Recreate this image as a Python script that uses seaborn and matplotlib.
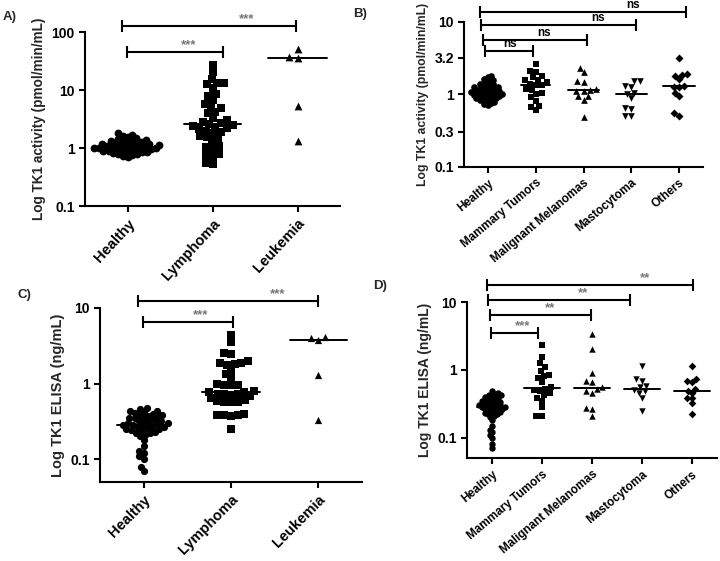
import numpy as np
import pandas as pd
import matplotlib
matplotlib.use('Agg')
import matplotlib.pyplot as plt
import seaborn as sns

sns.set_theme(style='ticks')
plt.rcParams['font.family'] = ['Liberation Sans', 'DejaVu Sans']
plt.rcParams['font.weight'] = 'bold'
plt.rcParams['axes.labelweight'] = 'bold'

# ---------------- data ----------------
cats_hem = ['Healthy', 'Lymphoma', 'Leukemia']
cats_solid = ['Healthy', 'Mammary Tumors', 'Malignant Melanomas', 'Mastocytoma', 'Others']

# TK1 activity (pmol/min/mL)
healthy_activity = [0.70, 0.73, 0.76, 0.78, 0.80, 0.82, 0.84, 0.85, 0.87, 0.89, 0.90, 0.92,
                    0.93, 0.95, 0.96, 0.97, 0.99, 1.00, 1.01, 1.03, 1.04, 1.06, 1.07, 1.09,
                    1.10, 1.12, 1.14, 1.16, 1.18, 1.20, 1.22, 1.25, 1.27, 1.30, 1.33, 1.36,
                    1.40, 1.45, 1.50, 1.56, 1.62, 1.70, 1.78]
lymphoma_activity = [27, 20.5, 15.3, 13, 13, 12.5, 10.7, 8.5, 7.9, 6.7, 5.7, 5.2, 4.8, 4.2,
                     4.0, 3.3, 3.0, 2.8, 2.7, 2.6, 2.5, 2.4, 2.3, 2.2, 2.1, 2.0, 1.9, 1.8,
                     1.6, 1.55, 1.5, 1.3, 1.08, 1.05, 1.0, 0.78, 0.75, 0.72, 0.55, 0.52]
leukemia_activity = [50, 36, 37, 5.3, 1.3]
mammary_activity = [2.6, 2.1, 2.0, 1.8, 1.7, 1.57, 1.55, 1.45, 1.38, 1.35, 1.33, 1.17,
                    1.15, 1.02, 1.0, 0.9, 0.81, 0.69, 0.66, 0.6]
melanoma_activity = [2.33, 1.99, 1.53, 1.45, 1.17, 1.15, 1.11, 1.10, 0.95, 0.93, 0.83, 0.49]
mastocytoma_activity = [1.53, 1.50, 1.30, 1.26, 1.05, 1.01, 0.89, 0.65, 0.63, 0.50, 0.50]
others_activity = [3.2, 1.89, 1.85, 1.80, 1.61, 1.30, 1.26, 1.24, 1.05, 0.95, 0.54, 0.50]

# TK1 ELISA (ng/mL)
healthy_elisa = [0.07, 0.08, 0.10, 0.11, 0.12, 0.13, 0.15, 0.18, 0.20, 0.21, 0.22, 0.22,
                 0.23, 0.24, 0.24, 0.25, 0.25, 0.26, 0.26, 0.27, 0.27, 0.28, 0.28, 0.29,
                 0.29, 0.30, 0.30, 0.31, 0.32, 0.32, 0.33, 0.34, 0.35, 0.35, 0.36, 0.37,
                 0.38, 0.39, 0.40, 0.41, 0.42, 0.43, 0.44, 0.46, 0.48]
lymphoma_elisa = [4.4, 3.6, 2.55, 2.5, 1.97, 1.9, 1.87, 1.81, 1.78, 1.53, 1.34, 1.19,
                  0.98, 0.97, 0.97, 0.95, 0.79, 0.78, 0.77, 0.74, 0.73, 0.72, 0.70, 0.68,
                  0.65, 0.60, 0.59, 0.58, 0.58, 0.57, 0.40, 0.39, 0.38, 0.38, 0.37, 0.25]
leukemia_elisa = [4.1, 3.8, 4.0, 1.3, 0.33]
mammary_elisa = [2.3, 1.55, 1.25, 1.1, 0.95, 0.85, 0.8, 0.75, 0.65, 0.55, 0.52, 0.5,
                 0.48, 0.45, 0.42, 0.38, 0.35, 0.28, 0.21, 0.21]
melanoma_elisa = [3.4, 2.05, 0.91, 0.69, 0.66, 0.55, 0.52, 0.49, 0.46, 0.27, 0.26, 0.21]
mastocytoma_elisa = [1.12, 0.72, 0.68, 0.58, 0.55, 0.50, 0.48, 0.45, 0.38, 0.25]
others_elisa = [1.15, 0.72, 0.68, 0.65, 0.52, 0.49, 0.45, 0.38, 0.38, 0.32, 0.22]

# significance labels
sig_A = ['***', '***']
sig_B = ['ns', 'ns', 'ns', 'ns']
sig_C = ['***', '***']
sig_D = ['**', '**', '**', '***']

W, H = 720, 561
fig = plt.figure(figsize=(W / 100, H / 100), dpi=100)


def add_ax(left, right, top, bottom):
    return fig.add_axes([left / W, 1 - bottom / H, (right - left) / W, (bottom - top) / H])


markers = {'Healthy': 'o', 'Lymphoma': 's', 'Leukemia': '^', 'Mammary Tumors': 's',
           'Malignant Melanomas': '^', 'Mastocytoma': 'v', 'Others': 'D'}

resize = []  # (collection, final marker size) pairs


def panel(ax, cats, groups, ylim, yticks, yticklabels, ylabel, msize, medw, tickfs,
          ylabfs, pack, rot):
    ax.set_yscale('log')
    ax.set_ylim(*ylim)
    ax.set_xlim(-0.5, len(cats) - 0.5)
    for i, (c, vals) in enumerate(zip(cats, groups)):
        df = pd.DataFrame({'group': [c] * len(vals), 'value': vals})
        mk = markers[c]
        s = msize * (0.85 if mk == 'D' else 1.0)
        n0 = len(ax.collections)
        sns.swarmplot(data=df, x='group', y='value', order=cats, ax=ax, color='black',
                      marker=mk, size=s * pack[i], linewidth=0, warn_thresh=1.0)
        for coll in ax.collections[n0:]:
            resize.append((coll, s))
        med = np.median(vals)
        w = medw[i]
        ax.plot([i - w, i + w], [med, med], color='black', lw=1.4, zorder=5)
    ax.set_xlim(-0.5, len(cats) - 0.5)
    ax.set_ylim(*ylim)
    ax.set_yticks(yticks)
    ax.set_yticklabels(yticklabels, fontsize=10, fontweight='bold')
    ax.yaxis.set_minor_locator(matplotlib.ticker.NullLocator())
    ax.set_xticks(range(len(cats)))
    ax.set_xticklabels(cats, rotation=rot, ha='right', rotation_mode='anchor',
                       fontsize=tickfs, fontweight='bold')
    ax.set_xlabel('')
    ax.set_ylabel(ylabel, fontsize=ylabfs, fontweight='bold')
    for sp in ['top', 'right']:
        ax.spines[sp].set_visible(False)
    for sp in ['left', 'bottom']:
        ax.spines[sp].set_linewidth(1.5)
        ax.spines[sp].set_color('black')
    ax.tick_params(axis='both', direction='out', length=4, width=1.5, colors='black')
    ax.set_facecolor('white')


def bracket(ax, x0, x1, y, text, tx, star):
    ax.plot([x0, x1], [y, y], color='black', lw=1.5, marker='|', ms=9, mew=1.5,
            clip_on=False, zorder=6)
    if star:
        ax.annotate(text, (tx, y), xytext=(0, 0.5), textcoords='offset points',
                    ha='center', va='bottom', fontsize=9.5, color='#777777',
                    annotation_clip=False)
    else:
        ax.annotate(text, (tx, y), xytext=(0, 0.5), textcoords='offset points',
                    ha='center', va='bottom', fontsize=8.5, color='black',
                    fontweight='bold', annotation_clip=False)


# Panel A
axA = add_ax(85, 340, 32, 206)
panel(axA, cats_hem, [healthy_activity, lymphoma_activity, leukemia_activity],
      (0.1, 100), [0.1, 1, 10, 100], ['0.1', '1', '10', '100'],
      'Log TK1 activity (pmol/min/mL)', 5.6, [0.25, 0.33, 0.35], 10.5, 9.8,
      [0.62, 0.85, 1.0], 47)
bracket(axA, -0.07, 1.98, 127, sig_A[0], 1.4, True)
bracket(axA, -0.01, 1.12, 45, sig_A[1], 0.72, True)

# Panel B
axB = add_ax(464, 703, 21.7, 166.5)
panel(axB, cats_solid, [healthy_activity, mammary_activity, melanoma_activity,
                        mastocytoma_activity, others_activity],
      (0.1, 10), [0.1, 0.3, 1, 3.2, 10], ['0.1', '0.3', '1', '3.2', '10'],
      'Log TK1 activity (pmol/min/mL)', 4.8, [0.3, 0.3, 0.33, 0.33, 0.33], 8.5, 8.8,
      [0.55, 0.85, 0.9, 0.9, 0.9], 40)
bracket(axB, -0.17, 4.15, 13.7, sig_B[0], 3.03, False)
bracket(axB, -0.15, 3.09, 9.0, sig_B[1], 2.3, False)
bracket(axB, -0.10, 2.08, 5.6, sig_B[2], 1.18, False)
bracket(axB, -0.06, 0.95, 3.95, sig_B[3], 0.46, False)

# Panel C
axC = add_ax(100, 362, 308, 482)
panel(axC, cats_hem, [healthy_elisa, lymphoma_elisa, leukemia_elisa],
      (0.05, 10), [0.1, 1, 10], ['0.1', '1', '10'],
      'Log TK1 ELISA (ng/mL)', 5.2, [0.3, 0.33, 0.33], 10.5, 10.5,
      [0.7, 0.9, 1.0], 45)
bracket(axC, -0.06, 2.0, 12.5, sig_C[0], 1.53, True)
bracket(axC, -0.01, 1.02, 6.6, sig_C[1], 0.65, True)

# Panel D
axD = add_ax(467, 717, 302, 458)
panel(axD, cats_solid, [healthy_elisa, mammary_elisa, melanoma_elisa,
                        mastocytoma_elisa, others_elisa],
      (0.05, 10), [0.1, 1, 10], ['0.1', '1', '10'],
      'Log TK1 ELISA (ng/mL)', 4.6, [0.3, 0.36, 0.36, 0.36, 0.36], 8.5, 10,
      [0.55, 0.9, 0.9, 0.9, 0.9], 40)
bracket(axD, -0.10, 4.02, 17.6, sig_D[0], 3.06, True)
bracket(axD, -0.08, 2.76, 10.6, sig_D[1], 1.82, True)
bracket(axD, -0.04, 1.98, 6.5, sig_D[2], 1.16, True)
bracket(axD, -0.02, 0.92, 3.5, sig_D[3], 0.62, True)

for lab, x, y in [('A)', 3, 17), ('B)', 353, 14), ('C)', 17, 295), ('D)', 373, 286)]:
    fig.text(x / W, 1 - y / H, lab, fontsize=9.5, fontweight='bold', va='center', ha='left')

# lay out the swarms with compact spacing, then freeze them and enlarge markers
fig.canvas.draw()
for coll, s in resize:
    if 'draw' in coll.__dict__:
        del coll.__dict__['draw']
    coll.set_sizes([s ** 2])

fig.savefig('out.png', dpi=100, facecolor='white')
